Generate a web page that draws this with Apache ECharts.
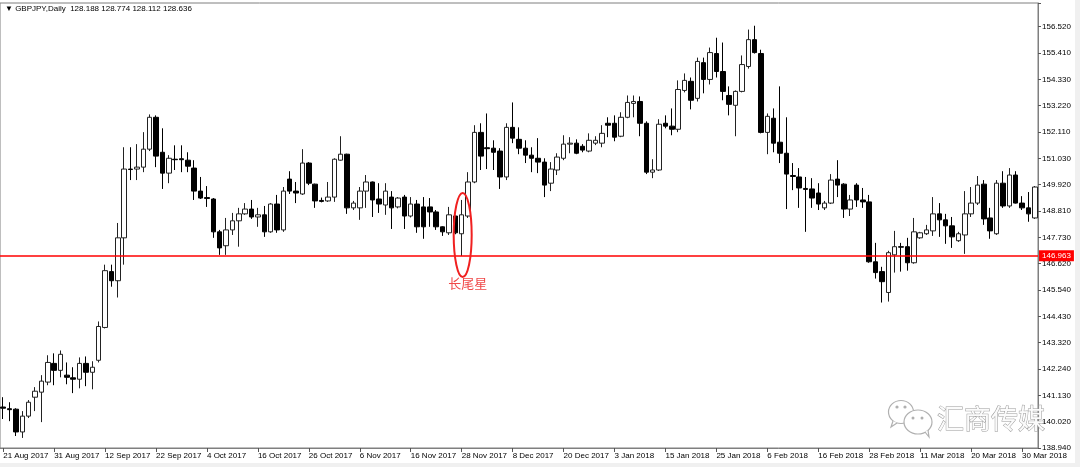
<!DOCTYPE html>
<html><head><meta charset="utf-8">
<script src="https://cdn.jsdelivr.net/npm/echarts@6/dist/echarts.min.js"></script>
<style>html,body{margin:0;padding:0;background:#fff}#c{width:1080px;height:467px}</style>
</head><body><div id="c"></div>
<script>
const dateLabels = ['21 Aug 2017','31 Aug 2017','12 Sep 2017','22 Sep 2017','4 Oct 2017','16 Oct 2017','26 Oct 2017','6 Nov 2017','16 Nov 2017','28 Nov 2017','8 Dec 2017','20 Dec 2017','3 Jan 2018','15 Jan 2018','25 Jan 2018','6 Feb 2018','16 Feb 2018','28 Feb 2018','11 Mar 2018','20 Mar 2018','30 Mar 2018'];
const priceLabels = ['138.940','140.020','141.130','142.240','143.320','144.430','145.540','146.620','147.730','148.810','149.920','151.030','152.110','153.220','154.330','155.410','156.520'];

const opens = [140.65,140.58,140.56,139.61,140.27,141.06,141.27,141.69,142.47,142.18,
141.98,141.87,141.81,142.47,142.10,142.60,143.97,146.30,145.92,147.71,
150.58,150.58,150.66,151.41,152.74,151.28,150.41,150.99,151.01,150.95,
150.62,149.66,149.39,149.33,147.96,147.38,148.04,148.42,148.71,148.91,
148.58,148.67,147.96,149.12,148.04,150.16,149.66,149.54,150.83,149.95,
149.27,149.25,149.41,150.95,151.20,148.96,148.96,149.66,150.04,149.33,
149.08,149.41,149.00,149.41,148.62,149.12,149.00,149.00,148.79,148.17,
147.92,148.62,147.88,148.62,150.04,152.11,151.47,151.45,151.33,150.25,
152.32,151.82,151.45,151.16,151.03,150.87,149.99,150.54,151.03,151.62,
151.66,151.53,151.33,151.66,151.66,152.49,152.49,151.95,152.74,153.32,
153.40,152.49,150.45,150.54,152.49,152.37,152.24,153.86,154.24,153.53,
155.02,154.32,155.40,154.65,153.65,153.24,153.82,154.86,155.98,155.40,
152.11,152.70,151.70,151.24,150.31,150.25,149.77,149.75,149.58,148.96,
149.16,150.16,149.95,148.91,149.91,149.29,149.21,146.71,146.30,145.43,
147.00,147.34,147.34,146.67,147.71,147.88,148.00,148.71,148.46,148.21,
147.59,147.83,148.71,149.16,149.95,148.54,147.88,149.99,149.04,150.33,
149.16,148.96,148.54];
const closes = [140.60,140.54,139.61,140.27,140.85,141.31,141.73,142.51,142.18,142.85,
141.89,141.81,142.47,142.10,142.31,144.01,146.34,145.92,147.71,150.58,
150.56,150.66,151.41,152.74,151.12,150.41,151.03,150.97,150.97,150.70,
149.66,149.37,149.35,147.96,147.29,148.04,148.42,148.71,148.91,148.58,
148.67,147.96,149.12,148.04,149.66,149.66,149.58,150.83,149.99,149.25,
149.23,149.41,150.99,151.20,148.96,149.16,149.66,150.04,149.29,149.12,
149.66,148.96,149.37,148.62,149.12,148.17,148.17,148.79,148.17,147.96,
148.67,147.92,148.67,150.04,152.11,151.12,151.43,151.28,150.25,152.32,
151.87,151.45,151.16,151.03,150.87,149.91,150.58,151.08,151.62,151.66,
151.24,151.37,151.78,151.78,152.07,152.41,151.91,152.74,153.36,153.40,
152.49,150.45,150.54,152.45,152.37,152.24,153.90,154.28,153.45,155.07,
154.32,155.44,154.65,153.82,153.28,153.82,154.94,155.98,155.44,152.11,
152.78,151.66,151.24,150.37,150.27,149.79,149.73,149.37,149.12,149.16,
150.12,149.91,148.91,149.29,149.29,149.21,146.71,146.26,145.88,147.09,
147.34,147.32,146.67,147.96,147.92,148.04,148.71,148.46,148.21,147.75,
147.88,148.71,149.16,149.91,148.50,148.00,149.99,149.04,150.33,149.16,
148.96,148.71,149.83];
const lows = [140.15,140.06,139.44,139.36,140.19,140.48,140.02,141.56,141.56,141.89,
141.60,141.23,141.43,141.52,141.39,142.51,143.93,145.67,145.22,146.59,
150.12,150.12,150.45,151.33,150.66,149.75,149.99,150.54,150.45,150.45,
149.29,149.33,149.00,147.71,147.00,147.00,147.83,147.34,148.67,148.50,
148.17,147.75,147.92,147.92,147.96,149.54,149.16,149.50,149.91,148.96,
149.19,149.21,149.21,150.93,148.71,148.87,148.46,148.96,148.58,148.75,
148.67,148.08,148.94,148.08,148.56,147.92,147.67,148.17,148.04,147.79,
147.83,147.86,146.95,148.54,149.99,150.54,150.58,150.54,149.75,150.12,
151.66,151.20,150.83,150.45,150.41,149.41,149.66,150.33,150.95,151.24,
151.20,151.28,151.28,151.58,151.49,151.91,151.74,151.91,152.70,152.74,
151.95,150.37,150.20,150.50,152.28,151.99,152.12,153.78,153.07,153.40,
153.74,154.11,154.40,153.45,152.82,151.95,153.78,154.77,155.40,152.07,
151.20,151.28,150.83,148.91,149.70,148.96,147.96,148.96,148.87,148.87,
149.12,149.41,148.54,148.62,149.00,148.96,146.67,146.01,145.01,145.05,
146.26,146.30,146.34,146.63,147.67,147.83,147.79,147.75,147.46,147.29,
147.54,147.04,148.58,149.08,148.25,147.67,147.83,148.96,148.96,149.14,
148.87,148.38,148.50];
const highs = [141.06,140.85,140.60,140.48,140.94,141.48,141.98,142.81,142.89,143.01,
142.51,142.31,142.72,142.76,142.56,144.22,146.59,146.59,148.33,151.49,
151.49,151.62,152.12,152.86,152.82,152.28,151.16,151.57,151.57,151.28,
150.95,150.25,149.87,149.37,148.04,148.54,148.75,148.96,149.16,149.29,
148.96,149.04,149.16,149.50,149.83,150.49,150.04,151.41,150.87,149.97,
149.39,150.04,151.03,151.95,151.22,149.25,149.83,150.33,150.06,149.99,
149.99,149.66,149.41,149.50,149.41,149.29,149.41,149.37,148.87,148.19,
149.00,148.64,149.29,150.45,152.41,152.49,152.90,151.78,151.45,152.49,
153.36,152.32,151.78,151.49,151.87,151.03,150.87,151.24,151.99,151.91,
151.82,151.62,152.07,151.95,152.41,152.74,152.82,152.95,153.65,153.65,
153.61,152.57,150.99,152.66,152.82,153.11,154.28,154.57,154.40,155.23,
155.23,155.65,156.06,155.86,154.03,153.86,155.32,156.40,156.56,155.56,
152.90,153.11,154.03,152.74,150.83,150.62,150.25,150.20,149.99,149.25,
150.37,150.95,149.99,149.50,149.99,149.79,149.50,147.50,146.50,147.17,
148.00,147.50,147.71,148.54,147.96,148.25,149.41,149.16,148.71,148.58,
147.96,149.66,149.83,150.29,150.12,148.96,150.12,150.49,150.62,150.49,
149.45,149.62,149.87];

const supportLevel = 146.963;
const starIndex = 72;
const titleText = '\u25BC GBPJPY,Daily  128.188 128.774 128.112 128.636';
const starLabel = '长尾星';
const watermarkText = '汇商传媒';

const yMin = 138.94, yStep = 1.09875, yMax = 157.509;
const categories = opens.map((_, i) => (i % 8 === 0 && dateLabels[i / 8]) ? dateLabels[i / 8] : '');
const ohlc = opens.map((o, i) => [o, closes[i], lows[i], highs[i]]);

const chart = echarts.init(document.getElementById('c'), null, {renderer: 'canvas'});
const option = {
  animation: false,
  backgroundColor: '#ffffff',
  title: {
    text: titleText, left: 5, top: 5, padding: 0,
    textStyle: {fontSize: 8, fontWeight: 'normal', color: '#000', fontFamily: 'Liberation Sans'}
  },
  grid: {left: 0, right: 42, top: 3, bottom: 19, show: true, borderColor: '#7f7f7f', borderWidth: 1, backgroundColor: '#fff'},
  xAxis: {
    type: 'category', data: categories, boundaryGap: true,
    axisLine: {show: true, lineStyle: {color: '#7f7f7f', width: 1}},
    axisTick: {show: true, alignWithLabel: true, length: 4, interval: (i) => i % 8 === 0, lineStyle: {color: '#555'}},
    axisLabel: {show: true, interval: (i) => i % 8 === 0, align: 'left', margin: 4, fontSize: 8, color: '#000', fontFamily: 'Liberation Sans', padding: [0,0,0,0]},
    splitLine: {show: false}
  },
  yAxis: {
    type: 'value', position: 'right', min: yMin, max: yMax, interval: yStep, scale: true,
    axisLine: {show: true, lineStyle: {color: '#7f7f7f', width: 1}},
    axisTick: {show: true, length: 3, lineStyle: {color: '#555'}},
    axisLabel: {
      show: true, margin: 4, fontSize: 8, color: '#000', fontFamily: 'Liberation Sans',
      showMinLabel: true, showMaxLabel: true,
      formatter: (v) => { const k = Math.round((v - yMin) / yStep); return priceLabels[k] || ''; }
    },
    splitLine: {show: false}
  },
  series: [{
    type: 'candlestick', data: ohlc, barWidth: 5,
    itemStyle: {color: '#ffffff', color0: '#000000', borderColor: '#222222', borderColor0: '#000000', borderWidth: 1},
    markLine: {
      symbol: ['none', 'none'], silent: true, animation: false,
      lineStyle: {color: '#ff0000', width: 1.5, type: 'solid'},
      label: {show: true, position: 'end', distance: 1, formatter: supportLevel.toFixed(3),
        color: '#ffffff', backgroundColor: '#ff0000', padding: [2, 3, 1, 3], fontSize: 8, fontFamily: 'Liberation Sans'},
      data: [{yAxis: supportLevel}]
    }
  }]
};
chart.setOption(option);

const pTop = chart.convertToPixel({xAxisIndex: 0, yAxisIndex: 0}, [starIndex, highs[starIndex]]);
const pBot = chart.convertToPixel({xAxisIndex: 0, yAxisIndex: 0}, [starIndex, lows[starIndex]]);
const ecx = pTop[0] + 1;
const ecy = (pTop[1] + pBot[1]) / 2 + 7;
const ery = (pBot[1] - pTop[1]) / 2 + 14;

chart.setOption({
  graphic: [
    {type: 'rect', shape: {x: 1075, y: 0, width: 5, height: 467}, style: {fill: '#f0f0f0'}, silent: true, z: 0},
    {type: 'rect', shape: {x: 0, y: 463, width: 1080, height: 4}, style: {fill: '#f0f0f0'}, silent: true, z: 0},
    {type: 'ellipse', shape: {cx: ecx, cy: ecy, rx: 9, ry: ery}, style: {fill: 'none', stroke: '#f02020', lineWidth: 2}, z: 100},
    {type: 'text', x: ecx + 5, y: ecy + ery + 6, style: {text: starLabel, fill: '#f04848', font: '13px "Noto Sans CJK SC"', textAlign: 'center', textVerticalAlign: 'middle'}, z: 100},
    {type: 'ellipse', shape: {cx: 901, cy: 412, rx: 12.5, ry: 11.5}, style: {fill: '#fff', stroke: '#b0b0b0', lineWidth: 1.2}, z: 90},
    {type: 'polyline', shape: {points: [[893, 421], [891, 427], [897, 423]]}, style: {fill: '#fff', stroke: '#b0b0b0', lineWidth: 1.2}, z: 90},
    {type: 'circle', shape: {cx: 897, cy: 407, r: 1.6}, style: {fill: '#b0b0b0'}, z: 91},
    {type: 'circle', shape: {cx: 905, cy: 407, r: 1.6}, style: {fill: '#b0b0b0'}, z: 91},
    {type: 'ellipse', shape: {cx: 918, cy: 422, rx: 14, ry: 12}, style: {fill: '#fff', stroke: '#b0b0b0', lineWidth: 1.2}, z: 92},
    {type: 'polyline', shape: {points: [[925, 432], [929, 437], [928, 430]]}, style: {fill: '#fff', stroke: '#b0b0b0', lineWidth: 1.2}, z: 92},
    {type: 'circle', shape: {cx: 913, cy: 418, r: 1.5}, style: {fill: '#b0b0b0'}, z: 93},
    {type: 'circle', shape: {cx: 922, cy: 418, r: 1.5}, style: {fill: '#b0b0b0'}, z: 93},
    {type: 'text', x: 937, y: 419, style: {text: watermarkText, fill: '#fbfbfb', stroke: '#9a9a9a', lineWidth: 1, font: '27px "Noto Sans CJK SC"', textAlign: 'left', textVerticalAlign: 'middle'}, z: 94}
  ]
});
</script>
</body></html>
